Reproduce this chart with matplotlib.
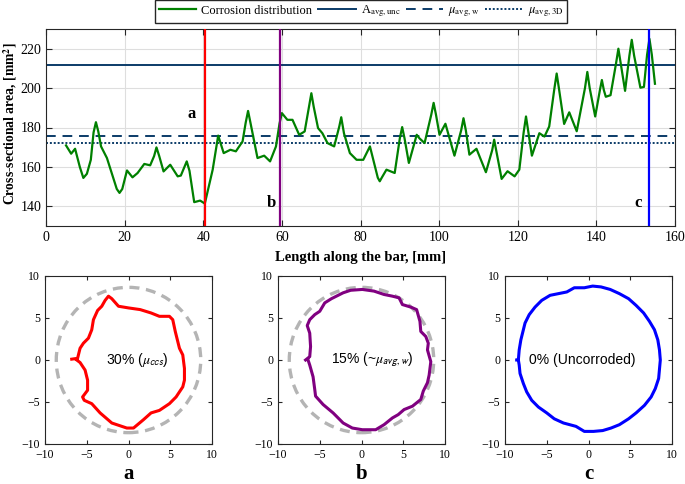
import matplotlib
matplotlib.use("Agg")
import matplotlib.pyplot as plt
from matplotlib.patches import Circle

# ─────────────────────────────────────────────────────────────────────────────
# Data
# ─────────────────────────────────────────────────────────────────────────────

# corrosion distribution along the bar (length [mm], area [mm^2])
length_mm = [5.1, 6.4, 7.4, 8.6, 9.5, 10.4, 11.4, 12.1, 12.7, 13.3, 14.0, 15.5,
             17.4, 18.0, 18.7, 19.4, 20.6, 22.0, 23.3, 25.0, 26.5, 27.5, 28.1,
             28.8, 29.9, 31.6, 33.5, 34.3, 35.2, 35.8, 36.5, 37.7, 39.2, 40.4,
             42.4, 43.8, 45.2, 46.9, 48.3, 50.0, 50.8, 51.4, 52.0, 53.8, 55.5,
             57.0, 58.5, 59.4, 60.0, 61.4, 62.7, 64.4, 65.8, 66.9, 67.5, 68.1,
             69.2, 70.3, 71.6, 73.3, 74.6, 75.1, 75.8, 77.3, 79.0, 80.7, 82.4,
             84.4, 84.9, 85.4, 86.6, 88.7, 90.0, 90.6, 91.2, 92.3, 93.7, 94.3,
             95.0, 96.3, 98.0, 98.6, 99.2, 100.1, 101.6, 103.9, 105.6, 106.2,
             106.8, 107.7, 109.5, 111.9, 113.5, 114.0, 114.6, 115.9, 117.4,
             119.2, 120.4, 121.5, 122.1, 122.7, 123.6, 125.5, 126.8, 128.0,
             129.3, 129.9, 130.5, 131.8, 133.1, 135.0, 137.1, 137.7, 138.3,
             139.7, 140.9, 141.4, 141.9, 142.4, 143.6, 145.0, 145.6, 146.2,
             147.3, 148.4, 149.0, 149.6, 151.2, 152.1, 152.9, 153.5, 154.1,
             154.9]
area_mm2 = [170.9, 166.7, 169.2, 160.0, 154.4, 156.5, 163.6, 177.5, 182.7, 178.0,
            170.4, 164.5, 152.7, 148.8, 146.8, 148.8, 158.2, 154.7, 156.9, 161.5,
            160.8, 165.5, 169.9, 165.5, 157.7, 161.1, 155.2, 155.6, 160.0, 162.8,
            158.0, 142.1, 142.9, 141.4, 158.6, 175.9, 167.0, 168.7, 167.9, 172.9,
            182.5, 188.4, 182.5, 164.5, 165.7, 162.8, 170.4, 182.0, 187.3, 183.9,
            183.9, 176.3, 178.0, 190.5, 197.4, 190.5, 179.7, 177.1, 172.1, 170.4,
            180.5, 185.2, 177.0, 167.0, 163.6, 163.6, 170.4, 154.5, 152.7, 154.5,
            158.6, 156.9, 174.5, 180.2, 174.5, 162.0, 172.0, 176.3, 174.5, 172.1,
            186.5, 192.5, 186.5, 176.3, 181.9, 165.7, 178.5, 184.7, 178.5, 166.2,
            169.2, 157.3, 168.5, 173.8, 167.5, 153.9, 157.8, 155.2, 158.6, 177.5,
            185.6, 177.5, 165.7, 177.1, 175.4, 180.5, 199.5, 207.4, 199.5, 181.8,
            187.7, 178.1, 200.0, 208.2, 200.0, 185.6, 199.0, 204.1, 199.0, 195.6,
            196.4, 212.5, 220.0, 212.5, 198.6, 216.5, 224.5, 216.5, 200.2, 200.6,
            217.0, 225.0, 217.0, 202.2]

a_avg_unc = 211.5
mu_avg_w = 175.6
mu_avg_3d = 172.2

section_pos = [40.5, 59.5, 153.5]          # a, b, c
section_names = ["a", "b", "c"]
section_colors = ["#ff0000", "#800080", "#0000ff"]

# cross-section outlines [mm]
sec_a_x = [-6.8, -6.1, -5.8, -5.4, -4.8, -4.4, -4.2, -3.7, -3.2, -2.8, -2.4, -2.0,
           -1.2, 0.0, 1.4, 2.7, 3.7, 4.9, 5.3, 5.6, 6.1, 6.5, 6.7, 6.7, 6.5, 5.7,
           4.9, 3.7, 2.7, 1.8, 0.6, -0.2, -2.0, -3.4, -4.4, -5.3, -5.5, -4.9,
           -4.9, -5.2, -5.8, -6.2]
sec_a_y = [0.1, 0.2, 1.4, 2.0, 2.6, 3.6, 4.8, 5.9, 6.4, 7.1, 7.6, 7.3, 6.4, 6.2,
           6.0, 5.6, 5.2, 5.2, 4.8, 3.4, 1.4, 0.6, -1.0, -2.4, -3.2, -4.4, -5.2,
           -6.0, -6.3, -7.1, -8.1, -8.1, -7.5, -6.3, -5.2, -4.8, -4.4, -3.6, -2.4,
           -1.2, -0.3, 0.0]

sec_b_x = [-6.7, -6.2, -6.1, -6.2, -6.5, -6.2, -5.6, -5.0, -4.4, -3.6, -2.2, -1.3,
           0.1, 1.5, 2.7, 3.7, 4.5, 4.9, 5.9, 6.6, 7.0, 7.1, 7.7, 8.0, 7.9, 8.3,
           8.1, 7.9, 7.4, 7.1, 6.1, 5.1, 4.4, 3.7, 2.7, 1.7, 0.1, -1.1, -2.2,
           -3.4, -4.6, -5.5, -5.6, -5.8, -6.2, -6.4]
sec_b_y = [0.0, 0.4, 1.6, 3.2, 4.1, 4.8, 5.4, 5.8, 6.8, 7.3, 8.0, 8.3, 8.4, 8.2,
           7.8, 7.6, 7.4, 6.6, 6.3, 6.0, 4.6, 3.4, 2.8, 2.0, 1.2, -0.2, -1.8,
           -2.7, -3.7, -4.7, -5.5, -5.9, -6.5, -6.9, -7.7, -8.3, -8.3, -8.1, -7.5,
           -6.3, -5.3, -4.3, -3.5, -2.0, -0.6, 0.0]

sec_c_x = [-8.6, -8.4, -8.3, -8.1, -7.6, -7.1, -6.4, -5.6, -4.6, -3.6, -2.6, -1.7,
           -0.5, 0.5, 1.5, 2.6, 3.7, 4.8, 5.7, 6.6, 7.3, 7.9, 8.3, 8.5, 8.6, 8.5,
           8.4, 8.0, 7.5, 6.7, 5.7, 4.8, 3.7, 2.7, 1.7, 0.6, -0.5, -1.5, -3.0,
           -4.1, -5.0, -6.0, -6.8, -7.4, -7.8, -8.2, -8.3, -8.4]
sec_c_y = [0.0, 0.0, 1.2, 2.4, 4.4, 5.4, 6.3, 7.1, 7.7, 7.9, 8.1, 8.6, 8.6, 8.8,
           8.7, 8.4, 7.9, 7.3, 6.5, 5.6, 4.6, 3.6, 2.4, 1.2, 0.0, -1.1, -2.2, -3.4,
           -4.4, -5.4, -6.3, -7.0, -7.7, -8.1, -8.4, -8.5, -8.5, -7.9, -7.5, -7.0,
           -6.3, -5.6, -4.8, -3.8, -2.8, -1.6, -0.6, 0.0]

nominal_radius = 8.65
section_texts = [r"30% ($\mu_{\mathsf{ccs}}$)", r"15% (~$\mu_{\mathsf{avg,w}}$)",
                 "0% (Uncorroded)"]
text_x = [1.1, 1.25, -0.75]

# ─────────────────────────────────────────────────────────────────────────────
# Style
# ─────────────────────────────────────────────────────────────────────────────
plt.rcParams["font.family"] = ["Liberation Serif", "DejaVu Serif"]
plt.rcParams["mathtext.fontset"] = "stix"
plt.rcParams["axes.edgecolor"] = "#262626"
plt.rcParams["xtick.direction"] = "in"
plt.rcParams["ytick.direction"] = "in"

GREEN = "#008000"
NAVY = "#0b3b68"

fig = plt.figure(figsize=(6.85, 4.84), dpi=100)

# ── Top: distribution along the bar ──────────────────────────────────────────
ax = fig.add_axes([46 / 685, 1 - 226 / 484, 629 / 685, 197 / 484])
ln_c, = ax.plot(length_mm, area_mm2, color=GREEN, lw=1.6, zorder=3)
ln_a = ax.axhline(a_avg_unc, color=NAVY, lw=1.4, zorder=2)
ln_w = ax.axhline(mu_avg_w, color=NAVY, lw=1.4, ls=(0, (5, 3.5)), zorder=2)
ln_3 = ax.axhline(mu_avg_3d, color=NAVY, lw=1.4, ls=(0, (1, 1)), zorder=2)
for xp, col in zip(section_pos, section_colors):
    ax.axvline(xp, color=col, lw=1.6, zorder=4)

ax.text(37.0, 186.7, "a", fontsize=12, fontweight="bold", ha="center", va="center")
ax.text(57.3, 141.5, "b", fontsize=12, fontweight="bold", ha="center", va="center")
ax.text(150.5, 141.5, "c", fontsize=12, fontweight="bold", ha="center", va="center")

ax.set_xlim(0, 160)
ax.set_ylim(130, 230)
ax.set_xticks(range(0, 161, 20))
ax.set_yticks(range(140, 221, 20))
ax.grid(True, color="#dedede", lw=0.8)
ax.set_axisbelow(True)
ax.tick_params(labelsize=10, top=True, right=True, length=4, color="#262626")
ax.set_xlabel("Length along the bar, [mm]", fontsize=10.5, fontweight="bold",
              labelpad=5)
ax.set_ylabel(r"Cross-sectional area, [mm$^\mathbf{2}$]", fontsize=9.8,
              fontweight="bold")
ax.yaxis.set_label_coords(-0.043, 0.52)

fig.legend([ln_c, ln_a, ln_w, ln_3],
           ["Corrosion distribution", r"A$_{\mathrm{avg,unc}}$",
            r"$\mu_{\mathrm{avg,w}}$", r"$\mu_{\mathrm{avg,3D}}$"],
           loc="upper center", bbox_to_anchor=(361 / 685, 1.0), ncol=4,
           fontsize=9, frameon=True, fancybox=False, edgecolor="#262626",
           framealpha=1, handlelength=3.0, handletextpad=0.4, columnspacing=0.45,
           borderpad=0.3, borderaxespad=0.0)

# ── Bottom: cross sections ───────────────────────────────────────────────────
sections_x = [sec_a_x, sec_b_x, sec_c_x]
sections_y = [sec_a_y, sec_b_y, sec_c_y]
lefts = [45, 278, 505]
for i in range(3):
    sax = fig.add_axes([lefts[i] / 685, 1 - 444 / 484, 167 / 685, 168 / 484])
    if i < 2:
        sax.add_patch(Circle((0, 0), nominal_radius, fill=False, edgecolor="#b4b4b4",
                             lw=2.4, ls=(0, (3, 2)), zorder=1))
    sax.plot(sections_x[i], sections_y[i], color=section_colors[i], lw=2.2, zorder=2)
    sax.text(text_x[i], 0, section_texts[i], family=["Liberation Sans", "DejaVu Sans"],
             fontsize=10, ha="center", va="center")
    sax.set_xlim(-10, 10)
    sax.set_ylim(-10, 10)
    sax.set_xticks([-10, -5, 0, 5, 10])
    sax.set_yticks([-10, -5, 0, 5, 10])
    sax.tick_params(labelsize=8.5, top=True, right=True, length=3, color="#262626")
    sax.text(0.5, -(474 - 444) / 168, section_names[i], transform=sax.transAxes,
             fontsize=15, fontweight="bold", ha="center", va="center")

fig.savefig("out.png", dpi=100)
